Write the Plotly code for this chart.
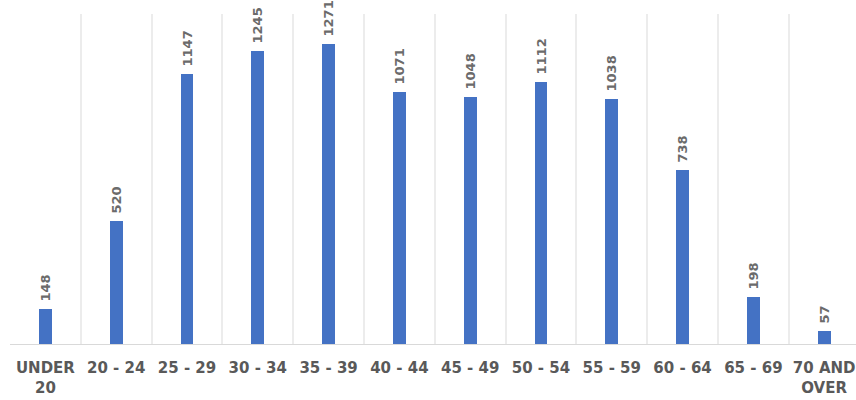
import plotly.graph_objects as go

categories = ["UNDER<br>20", "20 - 24", "25 - 29", "30 - 34", "35 - 39", "40 - 44",
              "45 - 49", "50 - 54", "55 - 59", "60 - 64", "65 - 69", "70 AND<br>OVER"]
values = [148, 520, 1147, 1245, 1271, 1071, 1048, 1112, 1038, 738, 198, 57]

fig = go.Figure(go.Bar(
    x=categories, y=values,
    width=0.18,
    marker=dict(color="#4472C4", line=dict(width=0)),
    text=["\u00a0" + str(v) for v in values],
    textposition="outside",
    textangle=-90,
    constraintext="none",
    cliponaxis=False,
    textfont=dict(family="DejaVu Sans", size=13, color="#6b6b6b", weight="bold"),
))

fig.update_layout(
    width=856, height=400,
    margin=dict(l=10, r=0, t=14, b=56),
    plot_bgcolor="white", paper_bgcolor="white",
    showlegend=False,
    bargap=0,
    xaxis=dict(
        tickson="boundaries",
        showgrid=True, gridcolor="#ececec", gridwidth=1.5,
        showline=True, linecolor="#d9d9d9", linewidth=1,
        ticks="", range=[-0.5, 11.45],
        ticklabelstandoff=10,
        tickfont=dict(family="DejaVu Sans", size=15, color="#595959", weight="bold"),
    ),
    yaxis=dict(range=[0, 1400], showgrid=False, showticklabels=False, zeroline=False),
)

fig.write_html("out.html")
